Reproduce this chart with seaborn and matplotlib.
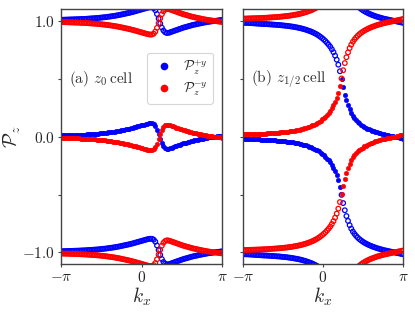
import numpy as np
import matplotlib
matplotlib.use("Agg")
import matplotlib.pyplot as plt
import seaborn as sns
from matplotlib.lines import Line2D

# ---------------- data ----------------
N = 100
kx = np.linspace(-np.pi, np.pi, N)

# panel (a): z0 cell, principal branch of the Wannier centres
blue_a = [0.010, 0.010, 0.011, 0.011, 0.012, 0.012, 0.013, 0.013, 0.014, 0.014,
          0.015, 0.015, 0.016, 0.017, 0.017, 0.018, 0.019, 0.020, 0.021, 0.022,
          0.023, 0.024, 0.025, 0.026, 0.028, 0.029, 0.031, 0.032, 0.034, 0.036,
          0.038, 0.040, 0.042, 0.044, 0.047, 0.049, 0.052, 0.055, 0.058, 0.061,
          0.064, 0.067, 0.070, 0.074, 0.077, 0.081, 0.085, 0.089, 0.093, 0.097,
          0.101, 0.105, 0.109, 0.113, 0.116, 0.118, 0.117, 0.110, 0.092, 0.060,
          0.020, -0.022, -0.058, -0.083, -0.098, -0.104, -0.103, -0.099, -0.094, -0.089,
          -0.084, -0.079, -0.074, -0.069, -0.064, -0.059, -0.055, -0.051, -0.047, -0.043,
          -0.039, -0.035, -0.032, -0.029, -0.026, -0.023, -0.020, -0.017, -0.014, -0.012,
          -0.009, -0.007, -0.005, -0.003, -0.001, 0.001, 0.003, 0.005, 0.007, 0.009]
red_a = [-0.010, -0.010, -0.011, -0.011, -0.012, -0.012, -0.013, -0.013, -0.014, -0.014,
         -0.015, -0.015, -0.016, -0.017, -0.017, -0.018, -0.019, -0.020, -0.021, -0.022,
         -0.023, -0.024, -0.025, -0.026, -0.028, -0.029, -0.031, -0.032, -0.034, -0.036,
         -0.038, -0.040, -0.042, -0.044, -0.047, -0.049, -0.052, -0.055, -0.058, -0.061,
         -0.064, -0.067, -0.070, -0.074, -0.077, -0.081, -0.085, -0.089, -0.093, -0.097,
         -0.101, -0.105, -0.109, -0.113, -0.116, -0.118, -0.117, -0.110, -0.092, -0.060,
         -0.020, 0.022, 0.058, 0.083, 0.098, 0.104, 0.103, 0.099, 0.094, 0.089,
         0.084, 0.079, 0.074, 0.069, 0.064, 0.059, 0.055, 0.051, 0.047, 0.043,
         0.039, 0.035, 0.032, 0.029, 0.026, 0.023, 0.020, 0.017, 0.014, 0.012,
         0.009, 0.007, 0.005, 0.003, 0.001, -0.001, -0.003, -0.005, -0.007, -0.009]

# panel (b): z1/2 cell, winding Wannier centres
red_b = [0.020, 0.020, 0.021, 0.021, 0.022, 0.022, 0.023, 0.023, 0.024, 0.024,
         0.025, 0.025, 0.026, 0.027, 0.027, 0.028, 0.029, 0.030, 0.031, 0.032,
         0.033, 0.034, 0.035, 0.036, 0.038, 0.039, 0.041, 0.042, 0.044, 0.046,
         0.048, 0.050, 0.053, 0.055, 0.058, 0.061, 0.064, 0.068, 0.072, 0.076,
         0.081, 0.086, 0.091, 0.097, 0.104, 0.111, 0.119, 0.128, 0.138, 0.149,
         0.161, 0.174, 0.189, 0.205, 0.223, 0.245, 0.270, 0.300, 0.335, 0.378,
         0.435, 0.503, 0.574, 0.636, 0.686, 0.728, 0.765, 0.795, 0.820, 0.840,
         0.857, 0.872, 0.885, 0.896, 0.906, 0.915, 0.923, 0.930, 0.937, 0.943,
         0.949, 0.954, 0.959, 0.964, 0.968, 0.972, 0.976, 0.980, 0.983, 0.986,
         0.989, 0.992, 0.995, 0.998, 1.001, 1.004, 1.007, 1.010, 1.013, 1.016]
blue_b = [-0.016, -0.016, -0.017, -0.017, -0.018, -0.019, -0.020, -0.021, -0.022, -0.023,
          -0.024, -0.025, -0.026, -0.027, -0.027, -0.028, -0.029, -0.030, -0.031, -0.032,
          -0.033, -0.034, -0.035, -0.036, -0.038, -0.039, -0.041, -0.042, -0.044, -0.046,
          -0.048, -0.050, -0.053, -0.055, -0.058, -0.061, -0.064, -0.068, -0.072, -0.076,
          -0.081, -0.086, -0.091, -0.097, -0.104, -0.111, -0.119, -0.128, -0.138, -0.149,
          -0.161, -0.174, -0.189, -0.205, -0.223, -0.245, -0.270, -0.300, -0.335, -0.378,
          -0.435, -0.503, -0.574, -0.636, -0.686, -0.728, -0.765, -0.795, -0.820, -0.840,
          -0.857, -0.872, -0.885, -0.896, -0.906, -0.915, -0.923, -0.930, -0.937, -0.943,
          -0.949, -0.954, -0.959, -0.964, -0.968, -0.972, -0.976, -0.980, -0.983, -0.986,
          -0.989, -0.992, -0.995, -0.998, -1.001, -1.004, -1.007, -1.010, -1.013, -1.016]

shifts_a = [-1, 0, 1]
shifts_b_blue = [-1, 0, 1, 2]
shifts_b_red = [-2, -1, 0, 1]

panel_texts = [r"(a) $z_0\,$cell", r"(b) $z_{1/2}\,$cell"]
ytick_vals = [-1.0, 0.0, 1.0]
ytick_labels = [r"$-1.0$", r"$0.0$", r"$1.0$"]
xtick_labels = [r"$-\pi$", r"$0$", r"$\pi$"]
legend_labels = [r"$\mathcal{P}_z^{+y}$", r"$\mathcal{P}_z^{-y}$"]

BLUE = "#0000ff"
RED = "#ff0000"

# ---------------- style ----------------
sns.set_style("ticks")
plt.rcParams["font.family"] = "serif"
plt.rcParams["font.serif"] = ["cmr10", "DejaVu Serif"]
plt.rcParams["mathtext.fontset"] = "cm"
plt.rcParams["axes.unicode_minus"] = False

fig = plt.figure(figsize=(4.15, 3.12), dpi=100)
axL = fig.add_axes([0.147, 0.154, 0.388, 0.816])
axR = fig.add_axes([0.5855, 0.154, 0.3855, 0.816])

S = 11


def draw(ax, vals, shifts, color):
    vals = np.asarray(vals)
    for s in shifts:
        y = vals + s
        fill = np.abs(y) <= 0.5
        vis = np.abs(y) <= 1.2
        mo = vis & ~fill
        mf = vis & fill
        if mo.any():
            sns.scatterplot(x=kx[mo], y=y[mo], ax=ax, s=S, facecolor="none",
                            edgecolor=color, linewidth=0.9, legend=False)
        if mf.any():
            sns.scatterplot(x=kx[mf], y=y[mf], ax=ax, s=S, color=color,
                            edgecolor=color, linewidth=0.3, legend=False)


draw(axL, blue_a, shifts_a, BLUE)
draw(axL, red_a, shifts_a, RED)
draw(axR, blue_b, shifts_b_blue, BLUE)
draw(axR, red_b, shifts_b_red, RED)

for i, ax in enumerate([axL, axR]):
    ax.set_xlim(-np.pi, np.pi)
    ax.set_ylim(-1.1, 1.1)
    ax.set_xticks([-np.pi, 0, np.pi])
    ax.set_xticklabels(xtick_labels, fontsize=11)
    ax.set_yticks(ytick_vals)
    ax.set_yticks([-0.5, 0.5], minor=True)
    ax.tick_params(which="both", direction="out", length=2.5, width=0.8,
                   color="#444444", pad=2)
    ax.tick_params(which="minor", length=2.0)
    for sp in ax.spines.values():
        sp.set_visible(True)
        sp.set_color("#444444")
        sp.set_linewidth(1.0)
    ax.set_xlabel(r"$k_x$", fontsize=14, labelpad=0)
    ax.set_ylabel("")
    ax.text(0.05, 0.727, panel_texts[i], transform=ax.transAxes, fontsize=11,
            va="center", ha="left", color="#333333")

axL.set_yticklabels(ytick_labels, fontsize=11)
axR.tick_params(labelleft=False)
axL.set_ylabel(r"$\mathcal{P}_z$", fontsize=14)
axL.yaxis.set_label_coords(-0.235, 0.5)

handles = [Line2D([], [], marker="o", ls="none", color=BLUE, markersize=4.5,
                  label=legend_labels[0]),
           Line2D([], [], marker="o", ls="none", color=RED, markersize=4.5,
                  label=legend_labels[1])]
leg = axL.legend(handles=handles, loc="upper right", bbox_to_anchor=(0.945, 0.83),
                 fontsize=10, frameon=True, handletextpad=0.6, borderpad=0.4,
                 labelspacing=0.3, handlelength=1.6, borderaxespad=0.0)
leg.get_frame().set_edgecolor("#cccccc")
leg.get_frame().set_linewidth(0.8)

fig.savefig("out.png", dpi=100)
